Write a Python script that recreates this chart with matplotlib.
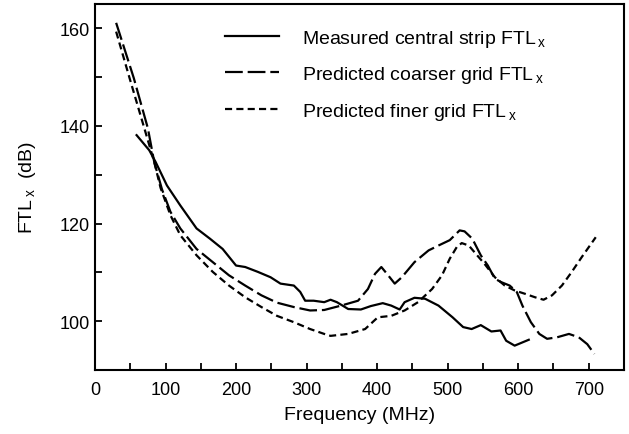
import matplotlib
matplotlib.use('Agg')
import matplotlib.pyplot as plt
from matplotlib.ticker import MultipleLocator

plt.rcParams['font.family'] = ['Liberation Sans', 'DejaVu Sans']
plt.rcParams['mathtext.fontset'] = 'custom'
plt.rcParams['mathtext.rm'] = 'Liberation Sans'

# measured central strip (solid)
meas_f = [59, 77, 86, 102, 121, 144, 163, 181, 200, 213, 231, 249, 263, 282, 291, 298,
          310, 325, 334, 343, 359, 377, 391, 408, 420, 432, 439, 453, 468, 487, 507,
          522, 534, 547, 562, 575, 583, 595, 615]
meas_db = [138.1, 135.0, 132.6, 127.8, 123.7, 119.0, 116.9, 114.8, 111.4, 111.1, 110.1,
           109.0, 107.7, 107.3, 106.0, 104.2, 104.2, 103.9, 104.4, 103.9, 102.5, 102.4,
           103.1, 103.7, 103.2, 102.4, 103.9, 104.8, 104.6, 103.2, 100.8, 98.8, 98.4,
           99.2, 97.9, 98.1, 96.0, 95.0, 96.2]

# predicted, coarser grid (long dash)
coarse_f = [30, 55, 75, 84, 95, 107, 121, 144, 167, 190, 213, 236, 258, 282, 305, 325,
            349, 373, 387, 397, 406, 414, 425, 435, 453, 473, 487, 503, 517, 524, 535,
            547, 557, 567, 576, 588, 598, 606, 618, 630, 641, 655, 672, 686, 698, 708]
coarse_db = [161.1, 149.8, 139.5, 132.6, 127.0, 122.4, 119.0, 114.8, 112.1, 109.4, 107.3,
             105.3, 103.8, 102.9, 102.2, 102.3, 103.2, 104.2, 106.6, 109.7, 111.1, 109.7,
             107.7, 109.0, 112.1, 114.5, 115.5, 116.6, 118.6, 118.4, 116.9, 113.5, 111.4,
             108.7, 108.0, 107.3, 106.0, 103.2, 99.8, 97.4, 96.4, 96.7, 97.4, 96.7, 95.3, 93.3]

# predicted, finer grid (short dash)
fine_f = [30, 49, 70, 84, 93, 107, 121, 144, 167, 190, 213, 236, 258, 282, 305, 325,
          334, 359, 383, 401, 420, 439, 458, 478, 492, 503, 513, 520, 530, 540, 552,
          567, 581, 595, 610, 624, 636, 648, 662, 676, 690, 710]
fine_db = [159.3, 149.8, 139.5, 132.6, 127.3, 121.7, 117.6, 113.5, 110.1, 107.3, 104.9,
           102.9, 101.1, 99.8, 98.4, 97.4, 97.0, 97.4, 98.4, 100.8, 101.1, 102.2, 103.9,
           106.6, 109.4, 112.8, 115.2, 116.0, 115.5, 113.8, 111.8, 109.0, 107.3, 106.3,
           105.6, 104.9, 104.4, 105.3, 107.3, 110.1, 113.1, 117.2]

sub_x = 'FTL$_{\\,\\mathrm{x}}$'

fig = plt.figure(figsize=(6.29, 4.35), dpi=100)
ax = fig.add_axes([0.151, 0.147, 0.841, 0.842])

lw = 1.6
ax.plot(meas_f, meas_db, color='black', lw=lw, ls='-',
        label='Measured central strip ' + sub_x)
ax.plot(coarse_f, coarse_db, color='black', lw=lw, ls=(0, (8, 2.2)),
        label='Predicted coarser grid ' + sub_x)
ax.plot(fine_f, fine_db, color='black', lw=lw, ls=(0, (3.2, 1.9)),
        label='Predicted finer grid ' + sub_x)

ax.set_xlim(0, 750)
ax.set_ylim(90, 165)
ax.xaxis.set_major_locator(MultipleLocator(100))
ax.xaxis.set_minor_locator(MultipleLocator(50))
ax.yaxis.set_major_locator(MultipleLocator(20))
ax.yaxis.set_minor_locator(MultipleLocator(10))
ax.tick_params(which='both', direction='in', length=5, width=1.3, labelsize=13)
ax.tick_params(axis='x', pad=8)
for s in ax.spines.values():
    s.set_linewidth(1.5)

ax.set_xlabel('Frequency (MHz)', fontsize=14, labelpad=6)
ax.set_ylabel(sub_x + '  (dB)', fontsize=14, labelpad=16)

ax.legend(loc='upper left', bbox_to_anchor=(0.245, 0.935), frameon=False,
          fontsize=14, handlelength=2.8, handletextpad=1.2, labelspacing=0.8,
          borderpad=0, borderaxespad=0)

fig.savefig('out.png', dpi=100)
